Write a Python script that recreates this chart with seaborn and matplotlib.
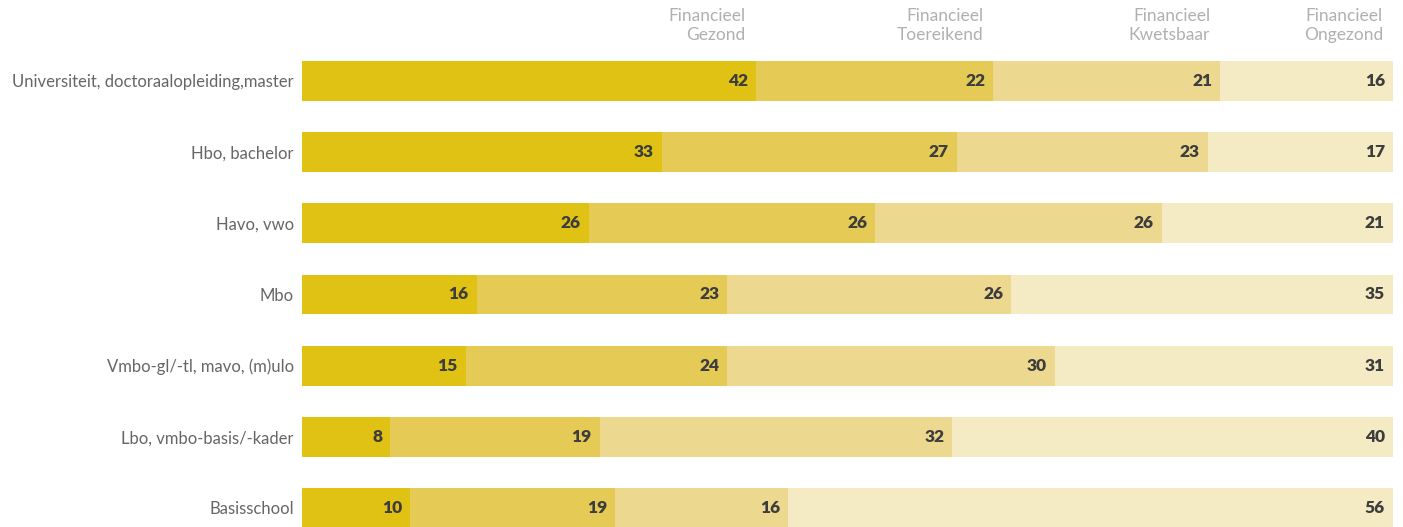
import matplotlib
matplotlib.use("Agg")
import matplotlib.pyplot as plt
import matplotlib.transforms as mtransforms
import numpy as np
import pandas as pd
import seaborn as sns

# Share of households per financial-health group, by education level (%)
categories = [
    "Universiteit, doctoraalopleiding,master",
    "Hbo, bachelor",
    "Havo, vwo",
    "Mbo",
    "Vmbo-gl/-tl, mavo, (m)ulo",
    "Lbo, vmbo-basis/-kader",
    "Basisschool",
]
groups = ["Financieel\nGezond", "Financieel\nToereikend",
          "Financieel\nKwetsbaar", "Financieel\nOngezond"]
gezond = [42, 33, 26, 16, 15, 8, 10]
toereikend = [22, 27, 26, 23, 24, 19, 19]
kwetsbaar = [21, 23, 26, 26, 30, 32, 16]
ongezond = [16, 17, 21, 35, 31, 40, 56]

colors = ["#dfc213", "#e5cb55", "#ecd98f", "#f4eac3"]

values = np.array([gezond, toereikend, kwetsbaar, ongezond], dtype=float)
shares = values / values.sum(axis=0) * 100
cum = np.cumsum(shares, axis=0)

sns.set_theme(style="white")
plt.rcParams["font.family"] = ["Lato", "DejaVu Sans"]

fig = plt.figure(figsize=(14.03, 5.27), dpi=100)
ax = fig.add_axes([302 / 1403, 0, 1091 / 1403, 466 / 527])

# stacked bars: draw cumulative totals from the widest down
for i in range(len(groups) - 1, -1, -1):
    df = pd.DataFrame({"cat": categories, "val": cum[i]})
    sns.barplot(data=df, x="val", y="cat", color=colors[i], width=0.56,
                saturation=1, ax=ax, orient="h", linewidth=0)

ax.set_xlim(0, 100)
ax.set_ylim(6.267, -0.281)
ax.set_xlabel("")
ax.set_ylabel("")
ax.set_xticks([])
ax.tick_params(axis="y", length=0, pad=6, labelsize=12, labelcolor="#666666")
for s in ax.spines.values():
    s.set_visible(False)

# value labels at the right end of each segment
off = mtransforms.ScaledTranslation(-8 / 100, 0, fig.dpi_scale_trans)
for i in range(len(groups)):
    for j in range(len(categories)):
        ax.text(cum[i][j], j, f"{int(values[i][j])}", ha="right", va="center",
                fontsize=12.5, fontweight="heavy", color="#3d3d3d",
                transform=ax.transData + off)

# column headers above the first row
hdr = mtransforms.blended_transform_factory(ax.transData, fig.transFigure)
hoff = mtransforms.ScaledTranslation(-10 / 100, 0, fig.dpi_scale_trans)
for i, g in enumerate(groups):
    ax.text(cum[i][0], 1 - 8 / 527, g, ha="right", va="top", fontsize=12.5,
            color="#b0b0b0", linespacing=1.25, fontweight="normal",
            transform=hdr + hoff)

fig.savefig("out.png", dpi=100)
